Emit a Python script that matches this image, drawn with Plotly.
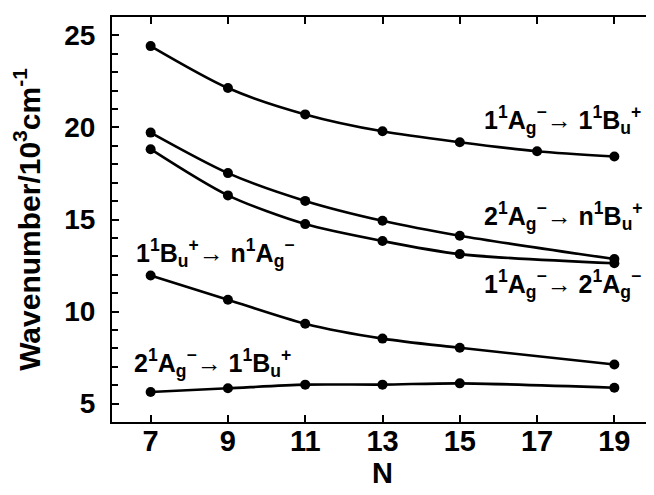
import plotly.graph_objects as go

N = [7, 9, 11, 13, 15, 17, 19]
N6 = [7, 9, 11, 13, 15, 19]

s_11Ag_11Bu = [24.42, 22.14, 20.71, 19.79, 19.20, 18.71, 18.42]
s_21Ag_n1Bu = [19.72, 17.52, 16.01, 14.93, 14.12, 12.85]
s_11Ag_21Ag = [18.82, 16.31, 14.75, 13.83, 13.12, 12.62]
s_11Bu_n1Ag = [11.96, 10.64, 9.34, 8.53, 8.03, 7.12]
s_21Ag_11Bu = [5.63, 5.83, 6.03, 6.03, 6.10, 5.86]

series = [
    (N, s_11Ag_11Bu),
    (N6, s_21Ag_n1Bu),
    (N6, s_11Ag_21Ag),
    (N6, s_11Bu_n1Ag),
    (N6, s_21Ag_11Bu),
]

labels = [
    ("1<sup>1</sup>A<sub>g</sub><sup>−</sup>→ 1<sup>1</sup>B<sub>u</sub><sup>+</sup>", 19.74, 20.42, "right"),
    ("2<sup>1</sup>A<sub>g</sub><sup>−</sup>→ n<sup>1</sup>B<sub>u</sub><sup>+</sup>", 19.78, 15.2, "right"),
    ("1<sup>1</sup>A<sub>g</sub><sup>−</sup>→ 2<sup>1</sup>A<sub>g</sub><sup>−</sup>", 19.74, 11.52, "right"),
    ("1<sup>1</sup>B<sub>u</sub><sup>+</sup>→ n<sup>1</sup>A<sub>g</sub><sup>−</sup>", 6.58, 13.18, "left"),
    ("2<sup>1</sup>A<sub>g</sub><sup>−</sup>→ 1<sup>1</sup>B<sub>u</sub><sup>+</sup>", 6.53, 7.19, "left"),
]

FONT = "Arial, Liberation Sans, sans-serif"

fig = go.Figure()
for xs, ys in series:
    fig.add_trace(go.Scatter(
        x=xs, y=ys, mode="lines+markers",
        line=dict(color="black", width=2.6, shape="spline", smoothing=0.8),
        marker=dict(color="black", size=10),
        showlegend=False,
    ))

for text, x, y, anchor in labels:
    fig.add_annotation(x=x, y=y, xref="x", yref="y", text=text, showarrow=False,
                       xanchor=anchor, yanchor="middle",
                       font=dict(family=FONT, size=25, color="black", weight="bold"))

fig.update_layout(
    width=654, height=495,
    margin=dict(l=104, r=9, t=7, b=81),
    paper_bgcolor="white", plot_bgcolor="white",
    font=dict(family=FONT, color="black"),
)
fig.update_xaxes(
    range=[6, 20], tickvals=N, ticktext=[str(v) for v in N],
    ticks="inside", ticklen=7, tickwidth=1.5, tickcolor="black",
    ticklabelstandoff=-8,
    showline=True, linecolor="black", linewidth=2, mirror="allticks",
    showgrid=False, zeroline=False,
    tickfont=dict(family=FONT, size=29, weight="bold"),
    title=dict(text="N", font=dict(family=FONT, size=29, weight="bold"), standoff=4),
)
fig.update_yaxes(
    range=[4, 26], tickvals=[5, 10, 15, 20, 25],
    ticks="inside", ticklen=7, tickwidth=1.5, tickcolor="black",
    ticklabelstandoff=9,
    minor=dict(dtick=1, tick0=0, ticks="inside", ticklen=6, tickwidth=1.5, tickcolor="black", showgrid=False),
    showline=True, linecolor="black", linewidth=2, mirror="allticks",
    showgrid=False, zeroline=False,
    tickfont=dict(family=FONT, size=28, weight="bold"),
    title=dict(text="Wavenumber/10<sup>3</sup>cm<sup>-1</sup>", font=dict(family=FONT, size=30, weight="bold"), standoff=18),
)

fig.write_html("out.html")
